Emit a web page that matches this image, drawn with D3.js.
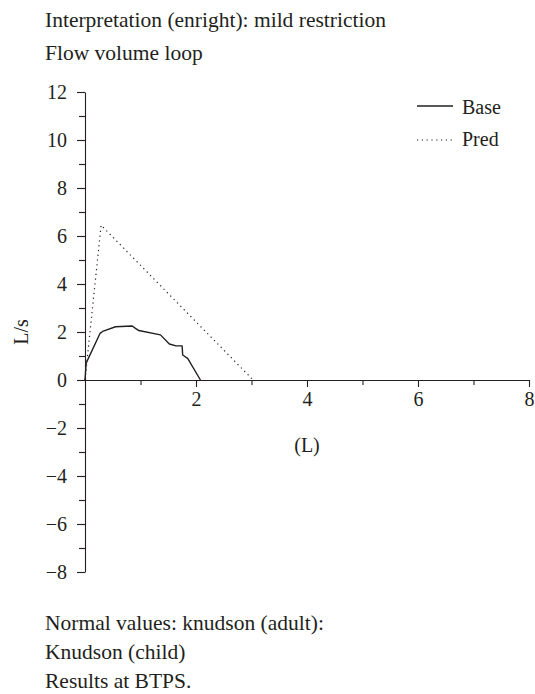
<!DOCTYPE html>
<html><head><meta charset="utf-8">
<script src="https://cdn.jsdelivr.net/npm/d3@7"></script>
<style>
body{margin:0;background:#fff;}
</style></head>
<body><svg id="c" width="535" height="694"></svg>
<script>
const titleLines = ["Interpretation (enright): mild restriction", "Flow volume loop"];
const footLines = ["Normal values: knudson (adult):", "Knudson (child)", "Results at BTPS."];
const xMajor = [2,4,6,8];
const xMinor = [1,3,5,7];
const yMajor = [-8,-6,-4,-2,0,2,4,6,8,10,12];
const yMinor = [-7,-5,-3,-1,1,3,5,7,9,11];
const seriesNames = ["Base","Pred"];
const baseVol = [0,0.02,0.05,0.27,0.33,0.55,0.85,0.91,0.97,1.36,1.52,1.64,1.75,1.76,1.85,2.08];
const baseFlow = [0,0.69,0.85,1.94,2.04,2.22,2.25,2.15,2.06,1.88,1.5,1.42,1.42,1.04,0.9,0];
const predVol = [0,0.29,3.03];
const predFlow = [0,6.45,0];

const svg = d3.select("#c");
const ink = "#231f20";
const SERIF = "'Liberation Serif','Times New Roman',serif";
const FS = 20;
const x = d3.scaleLinear().domain([0,8]).range([85,529]);
const y = d3.scaleLinear().domain([-8,12]).range([572,92]);

svg.selectAll("text.title").data(titleLines).join("text").attr("class","title")
  .attr("x",45).attr("y",(d,i)=>27+i*33).attr("font-size",21.5).text(d=>d);
svg.selectAll("text.foot").data(footLines).join("text").attr("class","foot")
  .attr("x",45).attr("y",(d,i)=>630+i*29).attr("font-size",21.5).text(d=>d);

const fmt = d3.format("");
function styleAxis(g){
  g.attr("font-family",null).attr("font-size",null);
  g.selectAll("path,line").attr("stroke",ink).attr("stroke-width",1.1);
  g.selectAll("text").attr("font-size",FS);
}
const gxm = svg.append("g").attr("transform",`translate(0,${y(0)})`)
  .call(d3.axisBottom(x).tickValues(xMinor).tickSize(5).tickSizeOuter(0).tickFormat(""));
gxm.select(".domain").remove();
const gym = svg.append("g").attr("transform",`translate(${x(0)},0)`)
  .call(d3.axisLeft(y).tickValues(yMinor).tickSize(6).tickSizeOuter(0).tickFormat(""));
gym.select(".domain").remove();
const gx = svg.append("g").attr("transform",`translate(0,${y(0)})`)
  .call(d3.axisBottom(x).tickValues(xMajor).tickSize(7).tickSizeOuter(0).tickPadding(12).tickFormat(fmt));
const gy = svg.append("g").attr("transform",`translate(${x(0)},0)`)
  .call(d3.axisLeft(y).tickValues(yMajor).tickSize(8).tickSizeOuter(0).tickPadding(10).tickFormat(fmt));
[gxm,gym,gx,gy].forEach(styleAxis);
gx.selectAll("text").attr("dy","0.35em");

svg.append("text").attr("x",x(4)).attr("y",452).attr("text-anchor","middle").attr("font-size",FS).text("(L)");
svg.append("text").attr("transform",`translate(28,${y(2)}) rotate(-90)`).attr("text-anchor","middle").attr("font-size",FS).text("L/s");

const line = d3.line().x(d=>x(d[0])).y(d=>y(d[1]));
const base = baseVol.map((v,i)=>[v,baseFlow[i]]);
const pred = predVol.map((v,i)=>[v,predFlow[i]]);
svg.append("path").attr("d",line(base)).attr("fill","none").attr("stroke",ink).attr("stroke-width",1.4).attr("stroke-linejoin","round");
svg.append("path").attr("d",line(pred)).attr("fill","none").attr("stroke",ink).attr("stroke-width",1.2).attr("stroke-dasharray","1.2,3.6");

const leg = svg.append("g");
const styles = [{dash:null,w:1.4,ty:114},{dash:"1.2,3.6",w:1.2,ty:146}];
seriesNames.forEach((n,i)=>{
  const yy = 106 + i*34;
  leg.append("line").attr("x1",417).attr("x2",453).attr("y1",yy).attr("y2",yy)
    .attr("stroke",ink).attr("stroke-width",styles[i].w).attr("stroke-dasharray",styles[i].dash);
  leg.append("text").attr("x",462).attr("y",styles[i].ty).attr("font-size",FS).text(n);
});
svg.selectAll("text").style("font-family",SERIF).style("fill",ink);
</script></body></html>
